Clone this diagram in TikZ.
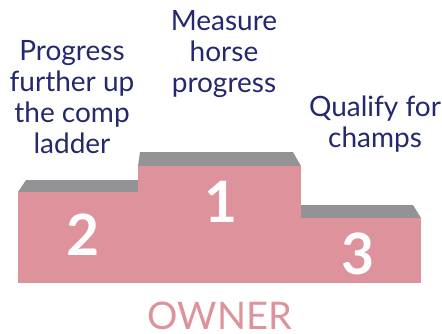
\documentclass[tikz,border=0pt]{standalone}
\usepackage{fontspec}
\setmainfont{Lato}
\definecolor{podpink}{RGB}{222,146,155}
\definecolor{podgray}{RGB}{147,147,150}
\definecolor{podnavy}{RGB}{36,40,110}
\tikzset{
  goal/.style={text=podnavy, font=\fontsize{28}{31}\selectfont, align=center, anchor=base},
  place/.style={text=white, font=\fontsize{57}{57}\selectfont\bfseries},
  block/.style={fill=podpink},
  blocktop/.style={fill=podgray}
}
\begin{document}
\begin{tikzpicture}[x=1pt,y=-1pt]
    \useasboundingbox (0,0) rectangle (442,333);
    % tops
    \fill[blocktop] (18,192) -- (26,180) -- (138,180) -- (138,192) -- cycle;
    \fill[blocktop] (138,166) -- (140,152) -- (293,152) -- (301,166) -- cycle;
    \fill[blocktop] (301,218) -- (301,205) -- (413,205) -- (421,218) -- cycle;
    % blocks
    \fill[block] (18,192) rectangle (138,283);
    \fill[block] (138,166) rectangle (301,283);
    \fill[block] (301,218) rectangle (421,283);
    % places
    \node[place] (second) at (83,235) {2};
    \node[place] (first) at (221,202) {1};
    \node[place] (third) at (358,254) {3};
    % goals (anchored on the last line)
    \node[goal] (ladder) at (72,153) {Progress\\further up\\the comp\\ladder};
    \node[goal] (measure) at (224,92) {Measure\\horse\\progress};
    \node[goal] (champs) at (375,147) {Qualify for\\champs};
    % owner
    \node[text=podpink, font=\fontsize{38}{38}\selectfont, anchor=base] (owner) at (220,329) {OWNER};
\end{tikzpicture}
\end{document}
